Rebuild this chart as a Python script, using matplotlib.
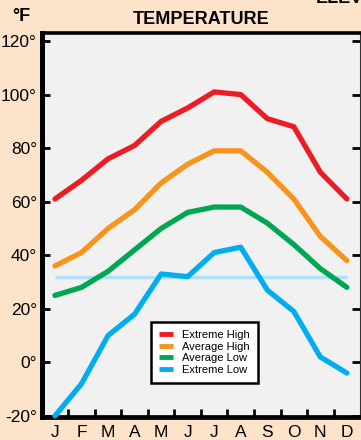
import matplotlib
matplotlib.use('Agg')
import matplotlib.pyplot as plt
import numpy as np

# values (degrees F)
months = ['J', 'F', 'M', 'A', 'M', 'J', 'J', 'A', 'S', 'O', 'N', 'D']
extreme_high = [61, 68, 76, 81, 90, 95, 101, 100, 91, 88, 71, 61]
average_high = [36, 41, 50, 57, 67, 74, 79, 79, 71, 61, 47, 38]
average_low = [25, 28, 34, 42, 50, 56, 58, 58, 52, 44, 35, 28]
extreme_low = [-20, -8, 10, 18, 33, 32, 41, 43, 27, 19, 2, -4]
freezing = 32
y_ticks = [-20, 0, 20, 40, 60, 80, 100, 120]

series = [
    ('Extreme High', extreme_high, '#ed1c24'),
    ('Average High', average_high, '#f7941d'),
    ('Average Low', average_low, '#00a651'),
    ('Extreme Low', extreme_low, '#00aeef'),
]

narrow = ['Liberation Sans Narrow', 'Liberation Sans', 'DejaVu Sans']
plt.rcParams['font.family'] = narrow

fig = plt.figure(figsize=(3.61, 4.40), dpi=100)
fig.patch.set_facecolor('#fde3c9')
ax = fig.add_axes([0.1177, 0.0523, 0.997 - 0.1177, 0.925 - 0.0523])
ax.set_facecolor('#f1f1f1')

x = np.arange(len(months))
# freezing line
ax.plot([x[0], x[-1]], [freezing, freezing], color='#b0e0f7', lw=2.5, zorder=1,
        solid_capstyle='butt')
for name, vals, col in series:
    ax.plot(x, vals, color=col, lw=3.8, label=name, zorder=3,
            solid_capstyle='round', solid_joinstyle='round', clip_on=False)

ax.set_xlim(-0.47, 11.49)
ax.set_ylim(-20.4, 123)

ax.set_yticks(y_ticks)
ax.set_yticklabels(['%d\u00b0' % v for v in y_ticks], fontsize=12.5)
ax.set_xticks(x)
ax.set_xticklabels(months, fontsize=12.5)
ax.set_xticks(x[:-1] + 0.5, minor=True)

ax.tick_params(axis='y', direction='in', length=6, width=2, pad=4, right=True, colors='black')
ax.tick_params(axis='x', which='major', length=0, pad=6)
ax.tick_params(axis='x', which='minor', direction='in', length=6, width=2)

ax.spines['left'].set_linewidth(3.6)
ax.spines['bottom'].set_linewidth(3.4)
ax.spines['top'].set_linewidth(2.6)
ax.spines['right'].set_linewidth(0.8)
ax.spines['right'].set_color('#333333')

leg = ax.legend(loc='lower center', bbox_to_anchor=(0.51, 0.075), fontsize=8,
                handlelength=1.3, handletextpad=0.8, labelspacing=0.15,
                borderpad=0.7, fancybox=False, framealpha=1, edgecolor='black')
leg.get_frame().set_linewidth(1.8)
for h in leg.get_lines():
    h.set_linewidth(3.5)
    h.set_solid_capstyle('butt')

fig.text(201 / 361, 1 - 20 / 440, 'TEMPERATURE', ha='center', va='center',
         fontsize=13, fontweight='bold')
fig.text(21 / 361, 1 - 16.5 / 440, '\u00b0F', ha='center', va='center',
         fontsize=13, fontweight='bold')
# heading of the next panel, cut off at the top edge like in the original
fig.text(316 / 361, 1 - 3 / 440, 'ELEVATION', ha='left', va='baseline',
         fontsize=13, fontweight='bold')

fig.savefig('out.png', dpi=100, facecolor=fig.get_facecolor())
